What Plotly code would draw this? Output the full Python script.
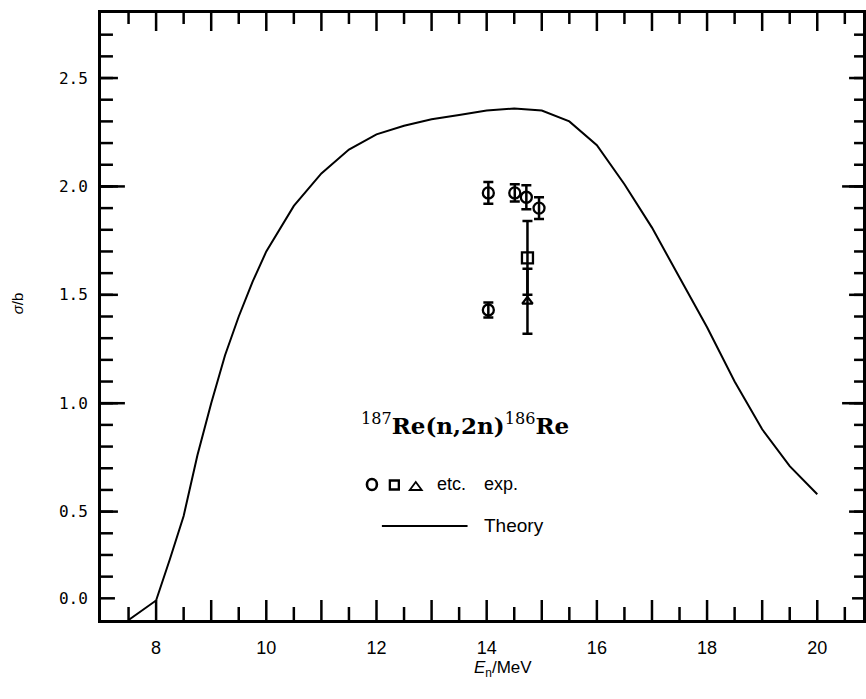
import plotly.graph_objects as go

# Theoretical 187Re(n,2n)186Re excitation function (neutron energy in MeV, cross section in b)
energy = [7.5, 8.0, 8.25, 8.5, 8.75, 9.0, 9.25, 9.5, 9.75, 10.0, 10.5, 11.0, 11.5,
          12.0, 12.5, 13.0, 13.5, 14.0, 14.5, 15.0, 15.5, 16.0, 16.5, 17.0, 17.5,
          18.0, 18.5, 19.0, 19.5, 20.0]
theory = [0.0, 0.09, 0.28, 0.48, 0.76, 1.00, 1.22, 1.40, 1.56, 1.70, 1.91, 2.06, 2.17,
          2.24, 2.28, 2.31, 2.33, 2.35, 2.36, 2.35, 2.30, 2.19, 2.01, 1.81, 1.58,
          1.35, 1.10, 0.88, 0.71, 0.58]

# Experimental data
circ_e = [14.03, 14.51, 14.72, 14.95, 14.03]
circ_s = [1.97, 1.97, 1.95, 1.90, 1.43]
circ_err = [0.05, 0.04, 0.055, 0.05, 0.035]
sq_e = [14.74]
sq_s = [1.67]
sq_err = [0.17]
tri_e = [14.74]
tri_s = [1.47]
tri_err = [0.15]

# Axis ticks and labels
x_label_vals = [8, 10, 12, 14, 16, 18, 20]
x_text = [str(v) for v in x_label_vals]
x_major = list(range(8, 21))
x_minor = [v + 0.5 for v in range(7, 21)]
y_label_vals = [0.1, 0.5, 1.0, 1.5, 2.0, 2.5]
y_text = ["0.0", "0.5", "1.0", "1.5", "2.0", "2.5"]
y_long = [1.0, 2.0]
y_minor = [round(0.1 * k, 1) for k in range(2, 28)]

W, H = 866, 699
ML, MR, MT, MB = 101, 0, 13, 79
PW, PH = W - ML - MR, H - MT - MB
INK = "black"


def px(xp):
    return (xp - ML) / PW


def py(yp):
    return (H - MB - yp) / PH


fig = go.Figure()

fig.add_trace(go.Scatter(x=energy, y=theory, mode="lines",
                         line=dict(color=INK, width=2), showlegend=False,
                         hoverinfo="skip"))

err_style = dict(type="data", thickness=2.5, width=5, color=INK)
fig.add_trace(go.Scatter(x=circ_e, y=circ_s, mode="markers",
                         marker=dict(symbol="circle-open", size=11, color=INK,
                                     line=dict(width=2.3, color=INK)),
                         error_y=dict(array=circ_err, **err_style), showlegend=False))
fig.add_trace(go.Scatter(x=sq_e, y=sq_s, mode="markers",
                         marker=dict(symbol="square-open", size=11, color=INK,
                                     line=dict(width=2.3, color=INK)),
                         error_y=dict(array=sq_err, **err_style), showlegend=False))
fig.add_trace(go.Scatter(x=tri_e, y=tri_s, mode="markers",
                         marker=dict(symbol="triangle-up-open", size=9, color=INK,
                                     line=dict(width=2.3, color=INK)),
                         error_y=dict(array=tri_err, **err_style), showlegend=False))

axis_common = dict(showline=True, linewidth=3, linecolor=INK, mirror=True,
                   ticks="", showgrid=False, zeroline=False, tickmode="array")

fig.update_layout(
    width=W, height=H,
    margin=dict(l=ML, r=MR, t=MT, b=MB),
    paper_bgcolor="white", plot_bgcolor="white",
    xaxis=dict(range=[7, 20.83], tickvals=x_label_vals, ticktext=x_text,
               ticklabelstandoff=9,
               tickfont=dict(family="Liberation Sans", size=18, color=INK),
               **axis_common),
    yaxis=dict(range=[0, 2.8], tickvals=y_label_vals, ticktext=y_text,
               ticklabelstandoff=7,
               tickfont=dict(family="DejaVu Sans Mono", size=16, color=INK),
               **axis_common),
)

TICK = dict(color=INK, width=2.5)


# inward tick marks on all four sides (lengths given in pixels)
def xtick(v, length):
    fig.add_shape(type="line", xref="x", yref="paper", x0=v, x1=v,
                  y0=0, y1=length / PH, line=TICK)
    fig.add_shape(type="line", xref="x", yref="paper", x0=v, x1=v,
                  y0=1, y1=1 - (length - 2) / PH, line=TICK)


def ytick(v, length):
    fig.add_shape(type="line", xref="paper", yref="y", y0=v, y1=v,
                  x0=0, x1=length / PW, line=TICK)
    fig.add_shape(type="line", xref="paper", yref="y", y0=v, y1=v,
                  x0=1 + 3 / PW, x1=1 + (3 - length) / PW, line=TICK)


for v in x_major:
    xtick(v, 20)
for v in x_minor:
    xtick(v, 13)
for v in y_minor:
    ytick(v, 12)
for v in y_label_vals:
    ytick(v, 14 if v < 0.5 else 17)
for v in y_long:
    ytick(v, 24)

# axis titles
fig.add_annotation(x=px(505), y=py(669), xref="paper", yref="paper",
                   xanchor="center", yanchor="middle",
                   text="<i>E</i><sub>n</sub>/MeV", showarrow=False,
                   font=dict(family="Liberation Sans", size=17, color=INK))
fig.add_annotation(x=px(17), y=py(303), xref="paper", yref="paper",
                   xanchor="center", yanchor="middle",
                   text="<i>σ</i>/b", textangle=-90, showarrow=False,
                   font=dict(family="Liberation Sans", size=15, color=INK))

# reaction label
fig.add_annotation(x=px(466), y=py(424), xref="paper", yref="paper",
                   xanchor="center", yanchor="middle",
                   text="<sup>187</sup><b>Re(n,2n)</b><sup>186</sup><b>Re</b>",
                   showarrow=False,
                   font=dict(family="DejaVu Serif", size=23, color=INK))

# key: experimental symbols
fig.add_shape(type="circle", xref="paper", yref="paper",
              x0=px(368), x1=px(378), y0=py(490), y1=py(479),
              line=dict(color=INK, width=2.6))
fig.add_shape(type="rect", xref="paper", yref="paper",
              x0=px(391), x1=px(400), y0=py(489.5), y1=py(480.5),
              line=dict(color=INK, width=2.3))
fig.add_shape(type="path", xref="paper", yref="paper",
              path=f"M {px(411)},{py(490)} L {px(423)},{py(490)} L {px(417)},{py(482)} Z",
              line=dict(color=INK, width=1.8))
fig.add_annotation(x=px(436), y=py(484), xref="paper", yref="paper",
                   xanchor="left", yanchor="middle", text="etc.", showarrow=False,
                   font=dict(family="Liberation Sans", size=18, color=INK))
fig.add_annotation(x=px(484), y=py(484), xref="paper", yref="paper",
                   xanchor="left", yanchor="middle", text="exp.", showarrow=False,
                   font=dict(family="Liberation Sans", size=18, color=INK))

# key: theory line
fig.add_shape(type="line", xref="paper", yref="paper",
              x0=px(383), x1=px(469), y0=py(526), y1=py(526),
              line=dict(color=INK, width=2))
fig.add_annotation(x=px(484), y=py(525), xref="paper", yref="paper",
                   xanchor="left", yanchor="middle", text="Theory", showarrow=False,
                   font=dict(family="Liberation Sans", size=19, color=INK))

fig.write_html("out.html")
